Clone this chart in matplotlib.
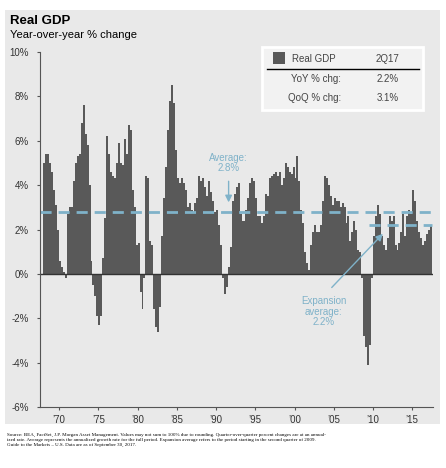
import matplotlib.pyplot as plt
from matplotlib.patches import Rectangle
from matplotlib.lines import Line2D
import numpy as np

plt.rcParams['font.family'] = ['Liberation Sans', 'DejaVu Sans']

start_year = 1968
yoy = [
    5.0, 5.4, 5.4, 5.0,   # 1968
    4.6, 3.8, 3.1, 2.0,   # 1969
    0.6, 0.3, 0.1, -0.2,  # 1970
    2.7, 3.0, 3.0, 4.2,   # 1971
    5.0, 5.3, 5.4, 6.8,   # 1972
    7.6, 6.3, 5.8, 4.0,   # 1973
    0.6, -0.5, -1.0, -1.9,  # 1974
    -2.3, -1.9, 0.7, 2.5,   # 1975
    6.2, 5.4, 4.6, 4.4,   # 1976
    4.3, 5.0, 5.9, 5.0,   # 1977
    4.9, 6.1, 5.4, 6.7,   # 1978
    6.5, 3.8, 3.0, 1.3,   # 1979
    1.4, -0.8, -1.6, -0.2,  # 1980
    4.4, 4.3, 1.5, 1.3,   # 1981
    -1.6, -2.4, -2.6, -1.5,  # 1982
    1.7, 3.4, 4.8, 6.5,   # 1983
    7.8, 8.5, 7.7, 5.6,   # 1984
    4.3, 4.1, 4.3, 4.1,   # 1985
    3.8, 3.0, 3.2, 2.9,   # 1986
    2.8, 3.2, 3.4, 4.4,   # 1987
    4.2, 4.3, 3.9, 3.5,   # 1988
    4.2, 3.7, 3.3, 2.8,   # 1989
    2.9, 2.2, 1.3, -0.2,  # 1990
    -0.9, -0.6, 0.3, 1.2,  # 1991
    3.3, 3.6, 3.9, 4.1,   # 1992
    2.7, 2.4, 2.4, 2.9,   # 1993
    3.4, 4.1, 4.3, 4.2,   # 1994
    3.4, 2.6, 2.6, 2.3,   # 1995
    2.6, 3.6, 3.5, 4.3,   # 1996
    4.4, 4.5, 4.6, 4.4,   # 1997
    4.6, 4.0, 4.3, 5.0,   # 1998
    4.8, 4.6, 4.5, 4.8,   # 1999
    4.3, 5.3, 4.2, 2.9,   # 2000
    2.3, 1.0, 0.5, 0.2,   # 2001
    1.3, 1.9, 2.2, 1.9,   # 2002
    1.9, 2.2, 3.3, 4.4,   # 2003
    4.3, 4.0, 3.5, 3.1,   # 2004
    3.4, 3.3, 3.3, 3.0,   # 2005
    3.2, 3.0, 2.3, 2.6,   # 2006
    1.5, 1.9, 2.4, 2.0,   # 2007
    1.1, 1.0, -0.2, -2.8,  # 2008
    -3.3, -4.1, -3.2, -0.2,  # 2009
    1.7, 2.6, 3.1, 2.7,   # 2010
    1.7, 1.3, 1.1, 1.6,   # 2011
    2.6, 2.4, 2.6, 1.3,   # 2012
    1.1, 1.4, 1.9, 2.7,   # 2013
    1.7, 2.6, 2.9, 2.7,   # 2014
    3.8, 3.3, 2.4, 1.9,   # 2015
    1.6, 1.3, 1.5, 1.8,   # 2016
    2.0, 2.2,             # 2017
]
average = 2.8
expansion_avg = 2.2
expansion_start = 2009.5
yticks = [-6, -4, -2, 0, 2, 4, 6, 8, 10]
xticks = [1970, 1975, 1980, 1985, 1990, 1995, 2000, 2005, 2010, 2015]
xlabels = ['\u201970', '\u201975', '\u201980', '\u201985', '\u201990',
           '\u201995', '\u201900', '\u201905', '\u201910', '\u201915']

bg = '#e9e9e9'
bar_c = '#595959'
blue = '#7fb2c9'

fig = plt.figure(figsize=(4.46, 4.68), dpi=100)
fig.patches.append(Rectangle((0.012, 0.093), 0.975, 0.885, transform=fig.transFigure,
                             facecolor=bg, edgecolor='none', zorder=-10))
ax = fig.add_axes([0.09, 0.13, 0.88, 0.759])
ax.set_facecolor(bg)

x = start_year + np.arange(len(yoy)) / 4
ax.bar(x, yoy, width=0.25, align='edge', color=bar_c, linewidth=0)
ax.axhline(0, color='#333333', lw=1)
ax.axhline(average, color=blue, lw=2, ls=(0, (4, 2.5)))
ax.plot([expansion_start, 2017.5], [expansion_avg] * 2, color=blue, lw=2, ls=(0, (4, 2.5)))

ax.set_xlim(1967.58, 2017.6)
ax.set_ylim(-6, 10)
ax.set_yticks(yticks)
ax.set_yticklabels([f'{v}%' for v in yticks], fontsize=7, color='#333333')
ax.set_xticks(xticks)
ax.set_xticklabels(xlabels, fontsize=7, color='#333333')
for s in ['top', 'right']:
    ax.spines[s].set_visible(False)
ax.spines['left'].set_color('#555555')
ax.spines['bottom'].set_color('#555555')
ax.tick_params(axis='y', length=2, color='#555555', pad=6)
ax.tick_params(axis='x', length=2, color='#555555')

ax.text(1991.6, 5.0, 'Average:\n2.8%', ha='center', va='center', color=blue,
        fontsize=7, linespacing=1.1)
ax.annotate('', xy=(1991.6, 3.1), xytext=(1991.6, 4.3),
            arrowprops=dict(arrowstyle='-|>', color=blue, lw=1))
ax.text(2003.7, -1.7, 'Expansion\naverage:\n2.2%', ha='center', va='center', color=blue,
        fontsize=7, linespacing=1.1)
ax.annotate('', xy=(2011.5, 1.9), xytext=(2004.5, -0.7),
            arrowprops=dict(arrowstyle='-|>', color=blue, lw=1))

fig.text(0.022, 0.955, 'Real GDP', fontsize=9.5, fontweight='bold', va='center')
fig.text(0.022, 0.925, 'Year-over-year % change', fontsize=8, va='center')

# legend box
fig.patches.append(Rectangle((0.588, 0.765), 0.36, 0.135, transform=fig.transFigure,
                             facecolor='#f2f2f2', edgecolor='white', lw=2, zorder=5))
fig.patches.append(Rectangle((0.613, 0.863), 0.025, 0.025, transform=fig.transFigure,
                             facecolor=bar_c, edgecolor='none', zorder=6))
fig.lines.append(Line2D([0.598, 0.94], [0.852, 0.852], transform=fig.transFigure,
                        color='black', lw=1, zorder=6))
fig.text(0.655, 0.875, 'Real GDP', fontsize=7, va='center', color='#444444', zorder=7)
fig.text(0.895, 0.875, '2Q17', fontsize=7, va='center', ha='right', color='#444444', zorder=7)
fig.text(0.765, 0.831, 'YoY % chg:', fontsize=7, va='center', ha='right', color='#444444', zorder=7)
fig.text(0.895, 0.831, '2.2%', fontsize=7, va='center', ha='right', color='#444444', zorder=7)
fig.text(0.765, 0.791, 'QoQ % chg:', fontsize=7, va='center', ha='right', color='#444444', zorder=7)
fig.text(0.895, 0.791, '3.1%', fontsize=7, va='center', ha='right', color='#444444', zorder=7)

fig.text(0.015, 0.075,
         'Source: BEA, FactSet, J.P. Morgan Asset Management. Values may not sum to 100% due to rounding. Quarter-over-quarter percent changes are at an annual-\n'
         'ized rate. Average represents the annualized growth rate for the full period. Expansion average refers to the period starting in the second quarter of 2009.\n'
         'Guide to the Markets \u2013 U.S. Data are as of September 30, 2017.',
         fontsize=3.6, va='top', family='Liberation Serif', linespacing=1.3)

fig.savefig('out.png', dpi=100)
